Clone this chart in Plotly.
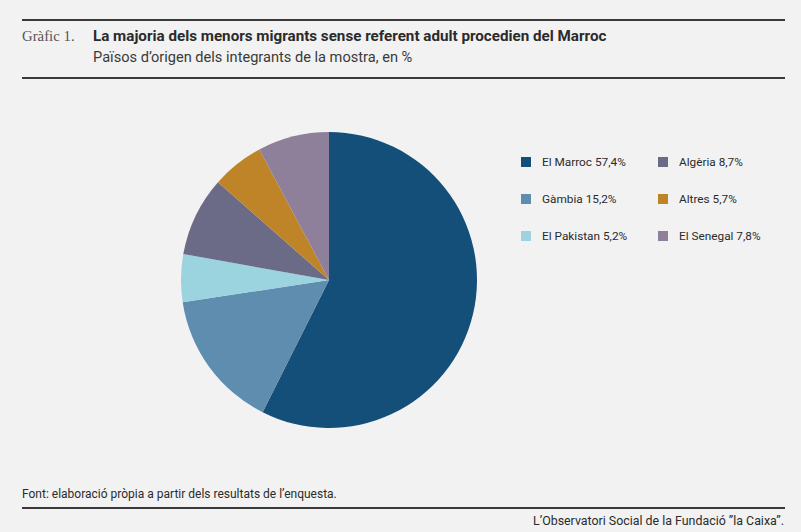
import plotly.graph_objects as go

# Data (percent of sample)
COUNTRIES = ["El Marroc", "Gàmbia", "El Pakistan", "Algèria", "Altres", "El Senegal"]
SHARES = [57.4, 15.2, 5.2, 8.7, 5.7, 7.8]
COLORS = ["#134f78", "#5f8db0", "#9bd3de", "#6b6b88", "#c08428", "#8e7f9b"]

# legend layout: two columns, three rows (column-major)
LEGEND_COLUMNS = [[0, 1, 2], [3, 4, 5]]

TITLE_LABEL = "Gràfic 1."
TITLE = "La majoria dels menors migrants sense referent adult procedien del Marroc"
SUBTITLE = "Països d’origen dels integrants de la mostra, en %"
SOURCE = "Font: elaboració pròpia a partir dels resultats de l’enquesta."
CREDIT = "L’Observatori Social de la Fundació ”la Caixa”."

W, H = 801, 532
BG = "#f2f2f2"
INK = "#3a3a3a"
FONT = "Roboto"


# page pixel -> paper coordinates
def px_x(x):
    return x / W


def px_y(y):
    return 1 - y / H


def fmt_pct(v):
    return f"{v:.1f}%".replace(".", ",")


fig = go.Figure()

cx, cy, r = 329, 280, 148
fig.add_trace(
    go.Pie(
        labels=COUNTRIES,
        values=SHARES,
        marker=dict(colors=COLORS, line=dict(width=0)),
        sort=False,
        direction="clockwise",
        rotation=0,
        textinfo="none",
        hoverinfo="label+percent",
        showlegend=False,
        domain=dict(
            x=[px_x(cx - r), px_x(cx + r)],
            y=[px_y(cy + r), px_y(cy - r)],
        ),
    )
)

shapes = []
annotations = []

# header / footer rules
for y in (20, 78, 508):
    shapes.append(
        dict(
            type="line", xref="paper", yref="paper",
            x0=px_x(22), x1=px_x(785), y0=px_y(y), y1=px_y(y),
            line=dict(color=INK, width=2),
        )
    )

# legend drawn by hand to get the two-column layout
col_x = [526, 663]
row_y = [162, 199, 236]
sq = 10
for c, idxs in enumerate(LEGEND_COLUMNS):
    for rr, i in enumerate(idxs):
        mx, my = col_x[c], row_y[rr]
        shapes.append(
            dict(
                type="rect", xref="paper", yref="paper",
                x0=px_x(mx - sq / 2), x1=px_x(mx + sq / 2),
                y0=px_y(my + sq / 2), y1=px_y(my - sq / 2),
                fillcolor=COLORS[i], line=dict(width=0),
            )
        )
        annotations.append(
            dict(
                xref="paper", yref="paper", x=px_x(mx + 14), y=px_y(my),
                xanchor="left", yanchor="middle", showarrow=False,
                text=f"{COUNTRIES[i]} {fmt_pct(SHARES[i])}",
                font=dict(family=FONT, size=11.8, color="#2b2b2b"),
            )
        )

annotations += [
    dict(
        xref="paper", yref="paper", x=px_x(20), y=px_y(36),
        xanchor="left", yanchor="middle", showarrow=False,
        text=TITLE_LABEL,
        font=dict(family="Liberation Serif", size=14.8, color="#555555"),
    ),
    dict(
        xref="paper", yref="paper", x=px_x(91), y=px_y(36),
        xanchor="left", yanchor="middle", showarrow=False,
        text=f"<b>{TITLE}</b>",
        font=dict(family=FONT, size=15.2, color="#2b2b2b"),
    ),
    dict(
        xref="paper", yref="paper", x=px_x(91), y=px_y(57),
        xanchor="left", yanchor="middle", showarrow=False,
        text=SUBTITLE,
        font=dict(family=FONT, size=14.6, color="#3a3a3a"),
    ),
    dict(
        xref="paper", yref="paper", x=px_x(20), y=px_y(494),
        xanchor="left", yanchor="middle", showarrow=False,
        text=SOURCE,
        font=dict(family=FONT, size=12, color="#2b2b2b"),
    ),
    dict(
        xref="paper", yref="paper", x=px_x(786), y=px_y(520),
        xanchor="right", yanchor="middle", showarrow=False,
        text=CREDIT,
        font=dict(family=FONT, size=12.4, color="#2b2b2b"),
    ),
]

fig.update_layout(
    width=W,
    height=H,
    margin=dict(l=0, r=0, t=0, b=0),
    paper_bgcolor=BG,
    plot_bgcolor=BG,
    shapes=shapes,
    annotations=annotations,
)

# drop the default page margin so the figure fills the window
fig.write_html(
    "out.html",
    config={"displayModeBar": False},
    post_script=(
        "document.body.style.margin='0';"
        "document.body.style.overflow='hidden';"
        f"document.body.style.background='{BG}';"
    ),
)
